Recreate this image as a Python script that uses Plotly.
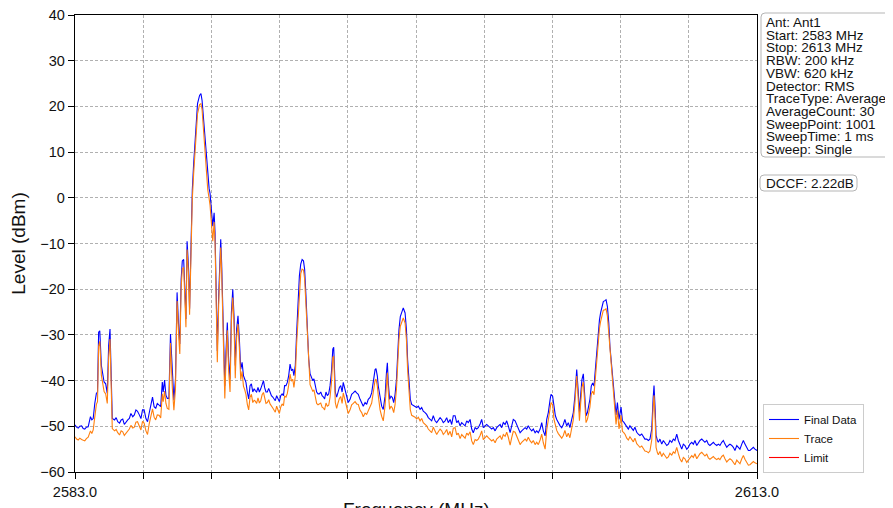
import plotly.graph_objects as go

# ---------------- data ----------------
freq_mhz = [
    2583.00, 2583.07, 2583.14, 2583.21, 2583.29, 2583.36, 2583.43, 2583.50, 2583.58, 2583.68,
    2583.74, 2583.80, 2583.87, 2583.94, 2583.99, 2584.04, 2584.09, 2584.16, 2584.28, 2584.35,
    2584.42, 2584.48, 2584.54, 2584.59, 2584.64, 2584.74, 2584.81, 2584.88, 2584.96, 2585.03,
    2585.10, 2585.17, 2585.25, 2585.32, 2585.39, 2585.46, 2585.54, 2585.61, 2585.68, 2585.75,
    2585.83, 2585.90, 2585.97, 2586.04, 2586.12, 2586.19, 2586.26, 2586.33, 2586.41, 2586.48,
    2586.55, 2586.62, 2586.70, 2586.77, 2586.84, 2586.88, 2586.94, 2587.00, 2587.06, 2587.13,
    2587.20, 2587.28, 2587.35, 2587.42, 2587.49, 2587.57, 2587.61, 2587.67, 2587.72, 2587.78,
    2587.84, 2587.88, 2587.93, 2587.99, 2588.04, 2588.10, 2588.16, 2588.22, 2588.30, 2588.39,
    2588.48, 2588.54, 2588.59, 2588.68, 2588.76, 2588.84, 2588.90, 2588.94, 2589.00, 2589.06,
    2589.12, 2589.16, 2589.20, 2589.26, 2589.32, 2589.38, 2589.41, 2589.45, 2589.53, 2589.59,
    2589.64, 2589.70, 2589.76, 2589.82, 2589.88, 2589.94, 2590.00, 2590.05, 2590.11, 2590.17,
    2590.23, 2590.29, 2590.35, 2590.41, 2590.46, 2590.52, 2590.58, 2590.64, 2590.70, 2590.76,
    2590.82, 2590.88, 2590.93, 2590.99, 2591.05, 2591.11, 2591.17, 2591.23, 2591.29, 2591.34,
    2591.40, 2591.46, 2591.52, 2591.58, 2591.64, 2591.70, 2591.76, 2591.81, 2591.87, 2591.93,
    2591.99, 2592.05, 2592.11, 2592.17, 2592.22, 2592.28, 2592.34, 2592.40, 2592.46, 2592.52,
    2592.58, 2592.63, 2592.69, 2592.75, 2592.81, 2592.87, 2592.93, 2592.99, 2593.05, 2593.10,
    2593.16, 2593.22, 2593.28, 2593.34, 2593.40, 2593.46, 2593.51, 2593.57, 2593.63, 2593.69,
    2593.75, 2593.81, 2593.87, 2593.93, 2593.98, 2594.04, 2594.10, 2594.16, 2594.22, 2594.28,
    2594.34, 2594.38, 2594.45, 2594.51, 2594.57, 2594.63, 2594.69, 2594.75, 2594.80, 2594.88,
    2594.95, 2595.02, 2595.10, 2595.17, 2595.24, 2595.32, 2595.39, 2595.46, 2595.54, 2595.61,
    2595.68, 2595.76, 2595.83, 2595.90, 2595.98, 2596.05, 2596.12, 2596.20, 2596.24, 2596.30,
    2596.34, 2596.42, 2596.49, 2596.56, 2596.64, 2596.70, 2596.74, 2596.78, 2596.84, 2596.90,
    2596.96, 2597.02, 2597.08, 2597.14, 2597.19, 2597.25, 2597.31, 2597.37, 2597.44, 2597.52,
    2597.58, 2597.63, 2597.69, 2597.75, 2597.81, 2597.88, 2597.96, 2598.03, 2598.10, 2598.18,
    2598.25, 2598.32, 2598.40, 2598.47, 2598.54, 2598.62, 2598.69, 2598.76, 2598.84, 2598.91,
    2598.98, 2599.06, 2599.13, 2599.20, 2599.28, 2599.35, 2599.42, 2599.50, 2599.57, 2599.64,
    2599.72, 2599.79, 2599.86, 2599.94, 2600.01, 2600.08, 2600.16, 2600.23, 2600.30, 2600.38,
    2600.45, 2600.52, 2600.60, 2600.67, 2600.74, 2600.82, 2600.89, 2600.96, 2601.04, 2601.11,
    2601.18, 2601.26, 2601.33, 2601.40, 2601.48, 2601.55, 2601.62, 2601.70, 2601.77, 2601.84,
    2601.92, 2601.99, 2602.06, 2602.14, 2602.21, 2602.28, 2602.36, 2602.43, 2602.50, 2602.58,
    2602.65, 2602.72, 2602.80, 2602.87, 2602.94, 2603.02, 2603.09, 2603.16, 2603.24, 2603.31,
    2603.38, 2603.46, 2603.53, 2603.60, 2603.68, 2603.75, 2603.82, 2603.90, 2603.94, 2604.01,
    2604.07, 2604.13, 2604.19, 2604.26, 2604.34, 2604.41, 2604.48, 2604.55, 2604.63, 2604.70,
    2604.77, 2604.85, 2604.92, 2604.99, 2605.07, 2605.13, 2605.19, 2605.24, 2605.30, 2605.36,
    2605.42, 2605.48, 2605.54, 2605.60, 2605.65, 2605.71, 2605.77, 2605.83, 2605.89, 2605.95,
    2606.01, 2606.07, 2606.12, 2606.18, 2606.24, 2606.31, 2606.36, 2606.42, 2606.48, 2606.53,
    2606.61, 2606.68, 2606.75, 2606.80, 2606.86, 2606.93, 2607.02, 2607.08, 2607.14, 2607.20,
    2607.27, 2607.34, 2607.41, 2607.49, 2607.56, 2607.63, 2607.71, 2607.78, 2607.85, 2607.93,
    2608.00, 2608.07, 2608.15, 2608.22, 2608.29, 2608.37, 2608.43, 2608.47, 2608.52, 2608.56,
    2608.62, 2608.66, 2608.73, 2608.81, 2608.88, 2608.95, 2609.03, 2609.10, 2609.17, 2609.25,
    2609.32, 2609.39, 2609.47, 2609.54, 2609.61, 2609.69, 2609.76, 2609.83, 2609.91, 2609.98,
    2610.05, 2610.13, 2610.20, 2610.27, 2610.35, 2610.42, 2610.49, 2610.57, 2610.64, 2610.71,
    2610.79, 2610.86, 2610.93, 2611.01, 2611.08, 2611.15, 2611.23, 2611.30, 2611.37, 2611.45,
    2611.52, 2611.59, 2611.67, 2611.74, 2611.81, 2611.89, 2611.96, 2612.03, 2612.11, 2612.18,
    2612.25, 2612.33, 2612.40, 2612.47, 2612.55, 2612.62, 2612.69, 2612.77, 2612.84, 2612.91,
    2613.00,
]

final_data_dbm = [
    -49.7, -50.2, -50.4, -50.0, -49.9, -50.5, -50.6, -50.2, -50.1, -47.9,
    -48.6, -48.3, -45.0, -42.8, -42.5, -29.4, -29.1, -36.7, -40.3, -40.7,
    -42.8, -32.3, -28.7, -39.6, -48.3, -48.6, -48.1, -49.0, -49.3, -48.6,
    -48.4, -49.6, -49.0, -48.6, -48.3, -47.2, -47.9, -47.5, -46.4, -46.7,
    -47.5, -48.3, -46.4, -46.4, -48.3, -49.0, -47.2, -45.7, -43.6, -45.7,
    -46.1, -45.0, -45.4, -45.7, -40.3, -42.5, -39.9, -43.2, -43.9, -43.9,
    -29.8, -39.6, -44.3, -39.6, -20.7, -29.4, -32.0, -17.8, -13.8, -13.5,
    -25.1, -26.5, -9.5, -14.9, -24.3, -7.0, 1.7, 7.5, 14.1, 20.6,
    22.4, 22.8, 21.3, 15.5, 9.0, 4.0, 2.0, 1.0, -3.0, -6.2,
    -3.3, -7.6, -17.8, -33.5, -21.5, -9.8, -9.1, -14.2, -33.8, -41.1,
    -33.8, -27.3, -36.0, -39.6, -25.1, -20.0, -26.5, -36.7, -28.7, -25.8,
    -30.9, -37.5, -36.0, -38.9, -39.6, -40.4, -42.5, -44.0, -41.1, -40.7,
    -42.5, -41.8, -42.2, -42.5, -41.5, -42.5, -41.8, -40.7, -40.0, -41.5,
    -42.5, -42.5, -41.7, -42.5, -43.3, -43.6, -44.0, -44.4, -43.3, -44.0,
    -44.6, -43.3, -42.9, -43.3, -41.1, -41.1, -40.4, -38.9, -36.4, -37.8,
    -37.5, -38.9, -36.7, -29.5, -23.6, -17.1, -14.5, -13.5, -13.8, -15.6,
    -21.5, -28.7, -35.3, -38.5, -39.3, -40.0, -39.6, -41.5, -42.5, -42.9,
    -42.9, -42.5, -43.3, -43.6, -44.0, -42.5, -43.3, -42.9, -41.1, -38.2,
    -33.1, -32.7, -42.5, -43.6, -42.5, -41.5, -41.1, -42.5, -40.4, -41.9,
    -43.0, -44.8, -44.1, -43.0, -42.7, -42.3, -42.7, -43.0, -44.1, -44.8,
    -45.6, -44.8, -45.2, -44.1, -43.7, -42.7, -40.5, -37.6, -37.4, -39.0,
    -41.2, -44.1, -45.6, -46.3, -43.4, -38.3, -36.1, -40.5, -44.1, -43.4,
    -43.7, -44.8, -43.0, -39.8, -33.9, -28.9, -26.0, -24.9, -24.1, -25.2,
    -28.9, -35.4, -41.2, -44.1, -45.2, -45.4, -45.6, -45.9, -45.6, -46.3,
    -45.9, -46.7, -47.0, -47.4, -48.1, -48.5, -48.8, -47.7, -48.8, -49.2,
    -48.8, -48.1, -48.5, -49.2, -48.8, -48.1, -49.2, -48.5, -49.6, -47.7,
    -47.7, -49.2, -48.8, -49.9, -49.2, -49.6, -49.9, -48.8, -49.2, -48.5,
    -50.6, -51.4, -50.3, -50.6, -50.3, -49.5, -48.5, -50.3, -49.9, -49.6,
    -49.9, -50.3, -50.6, -50.3, -51.0, -50.3, -49.9, -49.6, -50.3, -49.2,
    -49.6, -48.8, -49.9, -51.4, -49.9, -48.5, -48.8, -49.6, -50.6, -51.4,
    -51.0, -50.6, -50.3, -50.6, -49.9, -50.6, -51.0, -50.6, -51.4, -51.0,
    -51.4, -50.6, -49.2, -51.0, -52.1, -48.5, -47.0, -44.1, -43.0, -43.4,
    -46.3, -47.7, -48.5, -49.2, -49.9, -50.3, -49.6, -48.5, -49.9, -49.2,
    -50.3, -48.5, -47.0, -43.4, -37.6, -41.9, -47.0, -43.4, -39.8, -38.5,
    -42.7, -47.7, -47.0, -45.6, -44.1, -41.2, -40.5, -41.2, -37.6, -32.5,
    -28.9, -26.7, -25.2, -23.8, -22.7, -22.5, -22.3, -23.8, -27.4, -32.5,
    -36.8, -41.2, -45.5, -47.5, -44.8, -48.5, -45.8, -48.8, -49.1, -49.5,
    -50.2, -50.6, -49.9, -50.6, -50.9, -50.2, -51.3, -51.7, -52.0, -51.7,
    -52.4, -52.8, -52.8, -53.1, -52.8, -50.6, -44.0, -41.1, -46.2, -52.0,
    -53.1, -53.5, -52.8, -53.9, -53.1, -53.5, -54.2, -53.9, -53.1, -53.5,
    -52.8, -53.1, -51.7, -53.1, -54.2, -55.0, -53.9, -54.2, -55.0, -54.6,
    -53.9, -53.5, -53.9, -53.1, -54.2, -53.5, -53.1, -52.8, -53.1, -53.5,
    -53.1, -53.9, -54.2, -53.9, -53.5, -53.9, -54.2, -53.9, -54.2, -53.5,
    -53.1, -53.9, -54.6, -54.2, -53.9, -54.2, -54.6, -55.3, -54.2, -54.6,
    -55.0, -53.9, -53.1, -53.9, -54.6, -55.3, -55.3, -55.0, -54.6, -55.0,
    -55.3,
]

trace_dbm = [
    -52.3, -52.8, -53.0, -52.6, -52.9, -53.1, -53.2, -52.7, -52.4, -51.0,
    -51.6, -50.8, -47.5, -45.2, -44.6, -32.5, -31.4, -38.8, -42.4, -42.9,
    -45.0, -35.0, -30.9, -41.5, -50.5, -51.0, -50.7, -51.4, -51.9, -51.0,
    -51.2, -52.0, -51.5, -51.1, -50.6, -49.8, -50.4, -50.2, -49.1, -49.0,
    -49.9, -50.8, -48.9, -49.3, -51.0, -51.8, -49.6, -48.3, -46.2, -48.0,
    -48.6, -47.5, -47.6, -48.2, -42.9, -44.6, -42.3, -45.0, -46.1, -46.3,
    -31.8, -41.5, -46.5, -41.8, -22.6, -31.0, -34.2, -19.6, -15.6, -15.2,
    -26.6, -28.3, -11.3, -16.4, -25.6, -8.8, -0.3, 5.4, 12.0, 18.4,
    20.4, 20.6, 19.3, 13.4, 6.8, 1.8, -0.2, -1.6, -5.5, -9.5,
    -5.3, -9.8, -20.0, -36.0, -23.5, -11.6, -10.9, -16.0, -36.2, -43.9,
    -35.8, -29.0, -38.0, -42.5, -27.0, -21.8, -28.3, -39.5, -30.6, -27.6,
    -32.8, -39.8, -38.0, -41.2, -41.9, -43.0, -45.2, -46.4, -43.6, -43.0,
    -44.8, -44.3, -44.5, -45.0, -43.8, -44.9, -44.4, -43.1, -42.6, -43.9,
    -45.0, -44.8, -44.2, -45.1, -45.7, -46.0, -46.5, -46.9, -45.6, -46.3,
    -47.2, -45.8, -45.1, -45.5, -43.4, -43.6, -42.8, -41.0, -38.6, -40.1,
    -39.7, -41.5, -39.0, -31.8, -25.8, -19.3, -16.6, -15.6, -15.8, -17.7,
    -23.6, -30.8, -37.6, -40.9, -41.6, -42.4, -42.0, -43.8, -45.0, -45.3,
    -45.1, -44.9, -45.8, -46.0, -46.4, -44.9, -45.6, -45.4, -43.6, -40.5,
    -35.0, -34.6, -44.8, -46.1, -44.9, -43.9, -43.5, -45.0, -42.7, -44.2,
    -45.4, -47.2, -46.4, -45.3, -45.0, -44.6, -45.1, -45.2, -46.5, -47.0,
    -47.9, -47.1, -47.4, -46.6, -45.9, -44.9, -42.6, -39.9, -39.7, -41.2,
    -43.3, -46.4, -47.8, -48.8, -45.5, -40.0, -38.3, -42.4, -46.3, -45.6,
    -46.0, -47.0, -45.2, -41.9, -36.0, -31.0, -28.1, -27.0, -26.3, -27.4,
    -31.1, -37.6, -43.5, -46.4, -47.6, -47.8, -48.0, -48.4, -48.0, -48.8,
    -48.3, -49.2, -49.5, -49.9, -50.6, -51.0, -51.4, -50.2, -51.3, -51.8,
    -51.2, -50.6, -51.0, -51.8, -51.3, -50.7, -51.9, -51.1, -52.3, -50.4,
    -50.3, -51.9, -51.5, -52.7, -51.8, -52.3, -52.6, -51.5, -51.9, -51.2,
    -53.2, -54.0, -52.9, -53.1, -52.8, -52.0, -51.0, -52.9, -52.4, -52.1,
    -52.5, -52.8, -53.2, -52.9, -53.6, -52.8, -52.4, -52.1, -52.9, -51.8,
    -52.2, -51.3, -52.4, -54.1, -52.5, -51.1, -51.3, -52.1, -53.2, -54.0,
    -53.5, -53.1, -52.8, -53.2, -52.4, -53.2, -53.6, -53.1, -54.0, -53.5,
    -54.0, -53.0, -51.7, -53.6, -55.0, -50.8, -49.0, -46.1, -44.8, -45.3,
    -48.5, -50.0, -50.9, -51.6, -52.3, -52.6, -52.0, -50.9, -52.3, -51.5,
    -52.5, -50.6, -48.6, -44.9, -39.0, -43.6, -48.8, -45.2, -41.5, -40.3,
    -44.5, -49.2, -48.5, -47.3, -45.8, -43.0, -42.3, -43.1, -39.5, -34.5,
    -30.8, -28.6, -27.1, -25.8, -24.6, -24.5, -24.3, -25.9, -29.6, -34.7,
    -39.0, -43.5, -47.8, -49.6, -46.5, -50.6, -47.6, -51.1, -51.4, -51.8,
    -52.6, -53.0, -52.3, -53.0, -53.4, -52.6, -53.8, -54.2, -54.6, -54.3,
    -55.0, -55.4, -55.5, -55.8, -55.4, -53.0, -46.0, -43.2, -48.5, -54.6,
    -55.8, -56.2, -55.5, -56.6, -55.9, -56.3, -57.0, -56.7, -55.9, -56.3,
    -55.6, -55.9, -54.6, -56.0, -57.1, -57.8, -56.8, -57.1, -57.9, -57.4,
    -56.8, -56.4, -56.8, -56.0, -57.1, -56.4, -56.0, -55.7, -56.1, -56.5,
    -56.1, -56.9, -57.2, -56.9, -56.6, -57.0, -57.3, -57.0, -57.3, -56.6,
    -56.3, -57.1, -57.8, -57.4, -57.1, -57.4, -57.9, -58.4, -57.4, -57.8,
    -58.2, -57.1, -56.4, -57.2, -57.9, -58.5, -58.4, -58.1, -57.7, -58.0,
    -58.2,
]

# The limit line is not drawn inside the visible range; only its legend entry shows
limit_freq_mhz = [2583.0, 2613.0]
limit_dbm = [None, None]

x_tick_vals = [2583, 2586, 2589, 2592, 2595, 2598, 2601, 2604, 2607, 2610, 2613]
x_tick_text = ["2583.0", "", "", "", "", "", "", "", "", "", "2613.0"]
y_tick_vals = [-60, -50, -40, -30, -20, -10, 0, 10, 20, 30, 40]

info_lines = [
    "Ant: Ant1", "Start: 2583 MHz", "Stop: 2613 MHz", "RBW: 200 kHz",
    "VBW: 620 kHz", "Detector: RMS", "TraceType: Average", "AverageCount: 30",
    "SweepPoint: 1001", "SweepTime: 1 ms", "Sweep: Single",
]
dccf_text = "DCCF: 2.22dB"

# ---------------- layout geometry ----------------
# The page body has an 8 px margin, so the figure is 8 px smaller than the window.
W, H = 885, 500
ML, MR, MT, MB = 67, 136, 7, 36
PW = W - ML - MR          # 682 px plot width
PH = H - MT - MB          # 457 px plot height
PLOT_L, PLOT_B = 75, 472  # plot-area left / bottom edge in window pixels
FONT = "Arial, Liberation Sans, sans-serif"


def px(xp):
    return (xp - PLOT_L) / PW


def py(yp):
    return (PLOT_B - yp) / PH


def rounded_box(x0p, y0p, x1p, y1p, r=4):
    xa, xb = px(x0p), px(x1p)
    ya, yb = py(y1p), py(y0p)
    rx, ry = r / PW, r / PH
    return (f"M{xa+rx},{yb} L{xb-rx},{yb} Q{xb},{yb} {xb},{yb-ry} "
            f"L{xb},{ya+ry} Q{xb},{ya} {xb-rx},{ya} L{xa+rx},{ya} "
            f"Q{xa},{ya} {xa},{ya+ry} L{xa},{yb-ry} Q{xa},{yb} {xa+rx},{yb} Z")


fig = go.Figure()
fig.add_trace(go.Scatter(x=freq_mhz, y=final_data_dbm, mode="lines", name="Final Data",
                         line=dict(color="#0000ff", width=1.1)))
fig.add_trace(go.Scatter(x=freq_mhz, y=trace_dbm, mode="lines", name="Trace",
                         line=dict(color="#ff7f0e", width=1.1)))
fig.add_trace(go.Scatter(x=limit_freq_mhz, y=limit_dbm, mode="lines", name="Limit",
                         line=dict(color="#ff0000", width=1.1)))

shapes = [
    dict(type="path", xref="paper", yref="paper", path=rounded_box(761, 13, 891, 157),
         line=dict(color="#b5b5b5", width=1), fillcolor="white", layer="above"),
    dict(type="path", xref="paper", yref="paper", path=rounded_box(760, 175, 857, 191),
         line=dict(color="#b5b5b5", width=1), fillcolor="white", layer="above"),
]

annotations = []
for i, line in enumerate(info_lines):
    annotations.append(dict(
        text=line, xref="paper", yref="paper", x=px(763.5), y=py(22.5 + 12.7 * i),
        xanchor="left", yanchor="middle", showarrow=False,
        font=dict(family=FONT, size=13.5, color="#111111")))
annotations.append(dict(
    text=dccf_text, xref="paper", yref="paper", x=px(763.5), y=py(183.5),
    xanchor="left", yanchor="middle", showarrow=False,
    font=dict(family=FONT, size=13.5, color="#111111")))
annotations.append(dict(
    text="Frequency (MHz)", xref="paper", yref="paper", x=0.5, y=py(497),
    xanchor="center", yanchor="top", showarrow=False,
    font=dict(family=FONT, size=19, color="#111111")))

fig.update_layout(
    width=W, height=H,
    margin=dict(l=ML, r=MR, t=MT, b=MB, autoexpand=False),
    paper_bgcolor="white", plot_bgcolor="white",
    font=dict(family=FONT, color="#111111"),
    showlegend=True,
    legend=dict(x=px(763), y=py(473), xanchor="left", yanchor="bottom",
                bgcolor="white", bordercolor="#cccccc", borderwidth=1,
                font=dict(family=FONT, size=11.5), traceorder="normal",
                itemwidth=30, tracegroupgap=0),
    shapes=shapes,
    annotations=annotations,
)

fig.update_xaxes(
    range=[2583, 2613], tickmode="array", tickvals=x_tick_vals, ticktext=x_tick_text,
    showline=True, linecolor="black", linewidth=1.3, mirror=True,
    ticks="outside", ticklen=6, tickwidth=1.2, tickcolor="black",
    tickfont=dict(family=FONT, size=14.5, color="#111111"),
    ticklabeloverflow="allow",
    showgrid=True, gridcolor="#b0b0b0", gridwidth=0.8, griddash="3px,2px",
    zeroline=False,
)
fig.update_yaxes(
    range=[-60, 40], tickmode="array", tickvals=y_tick_vals,
    showline=True, linecolor="black", linewidth=1.3, mirror=True,
    ticks="outside", ticklen=6, tickwidth=1.2, tickcolor="black",
    tickfont=dict(family=FONT, size=14.5, color="#111111"),
    ticklabeloverflow="allow",
    showgrid=True, gridcolor="#b0b0b0", gridwidth=0.8, griddash="3px,2px",
    zeroline=False,
    title=dict(text="Level (dBm)", font=dict(family=FONT, size=19, color="#111111"), standoff=10),
)

fig.write_html("out.html")
